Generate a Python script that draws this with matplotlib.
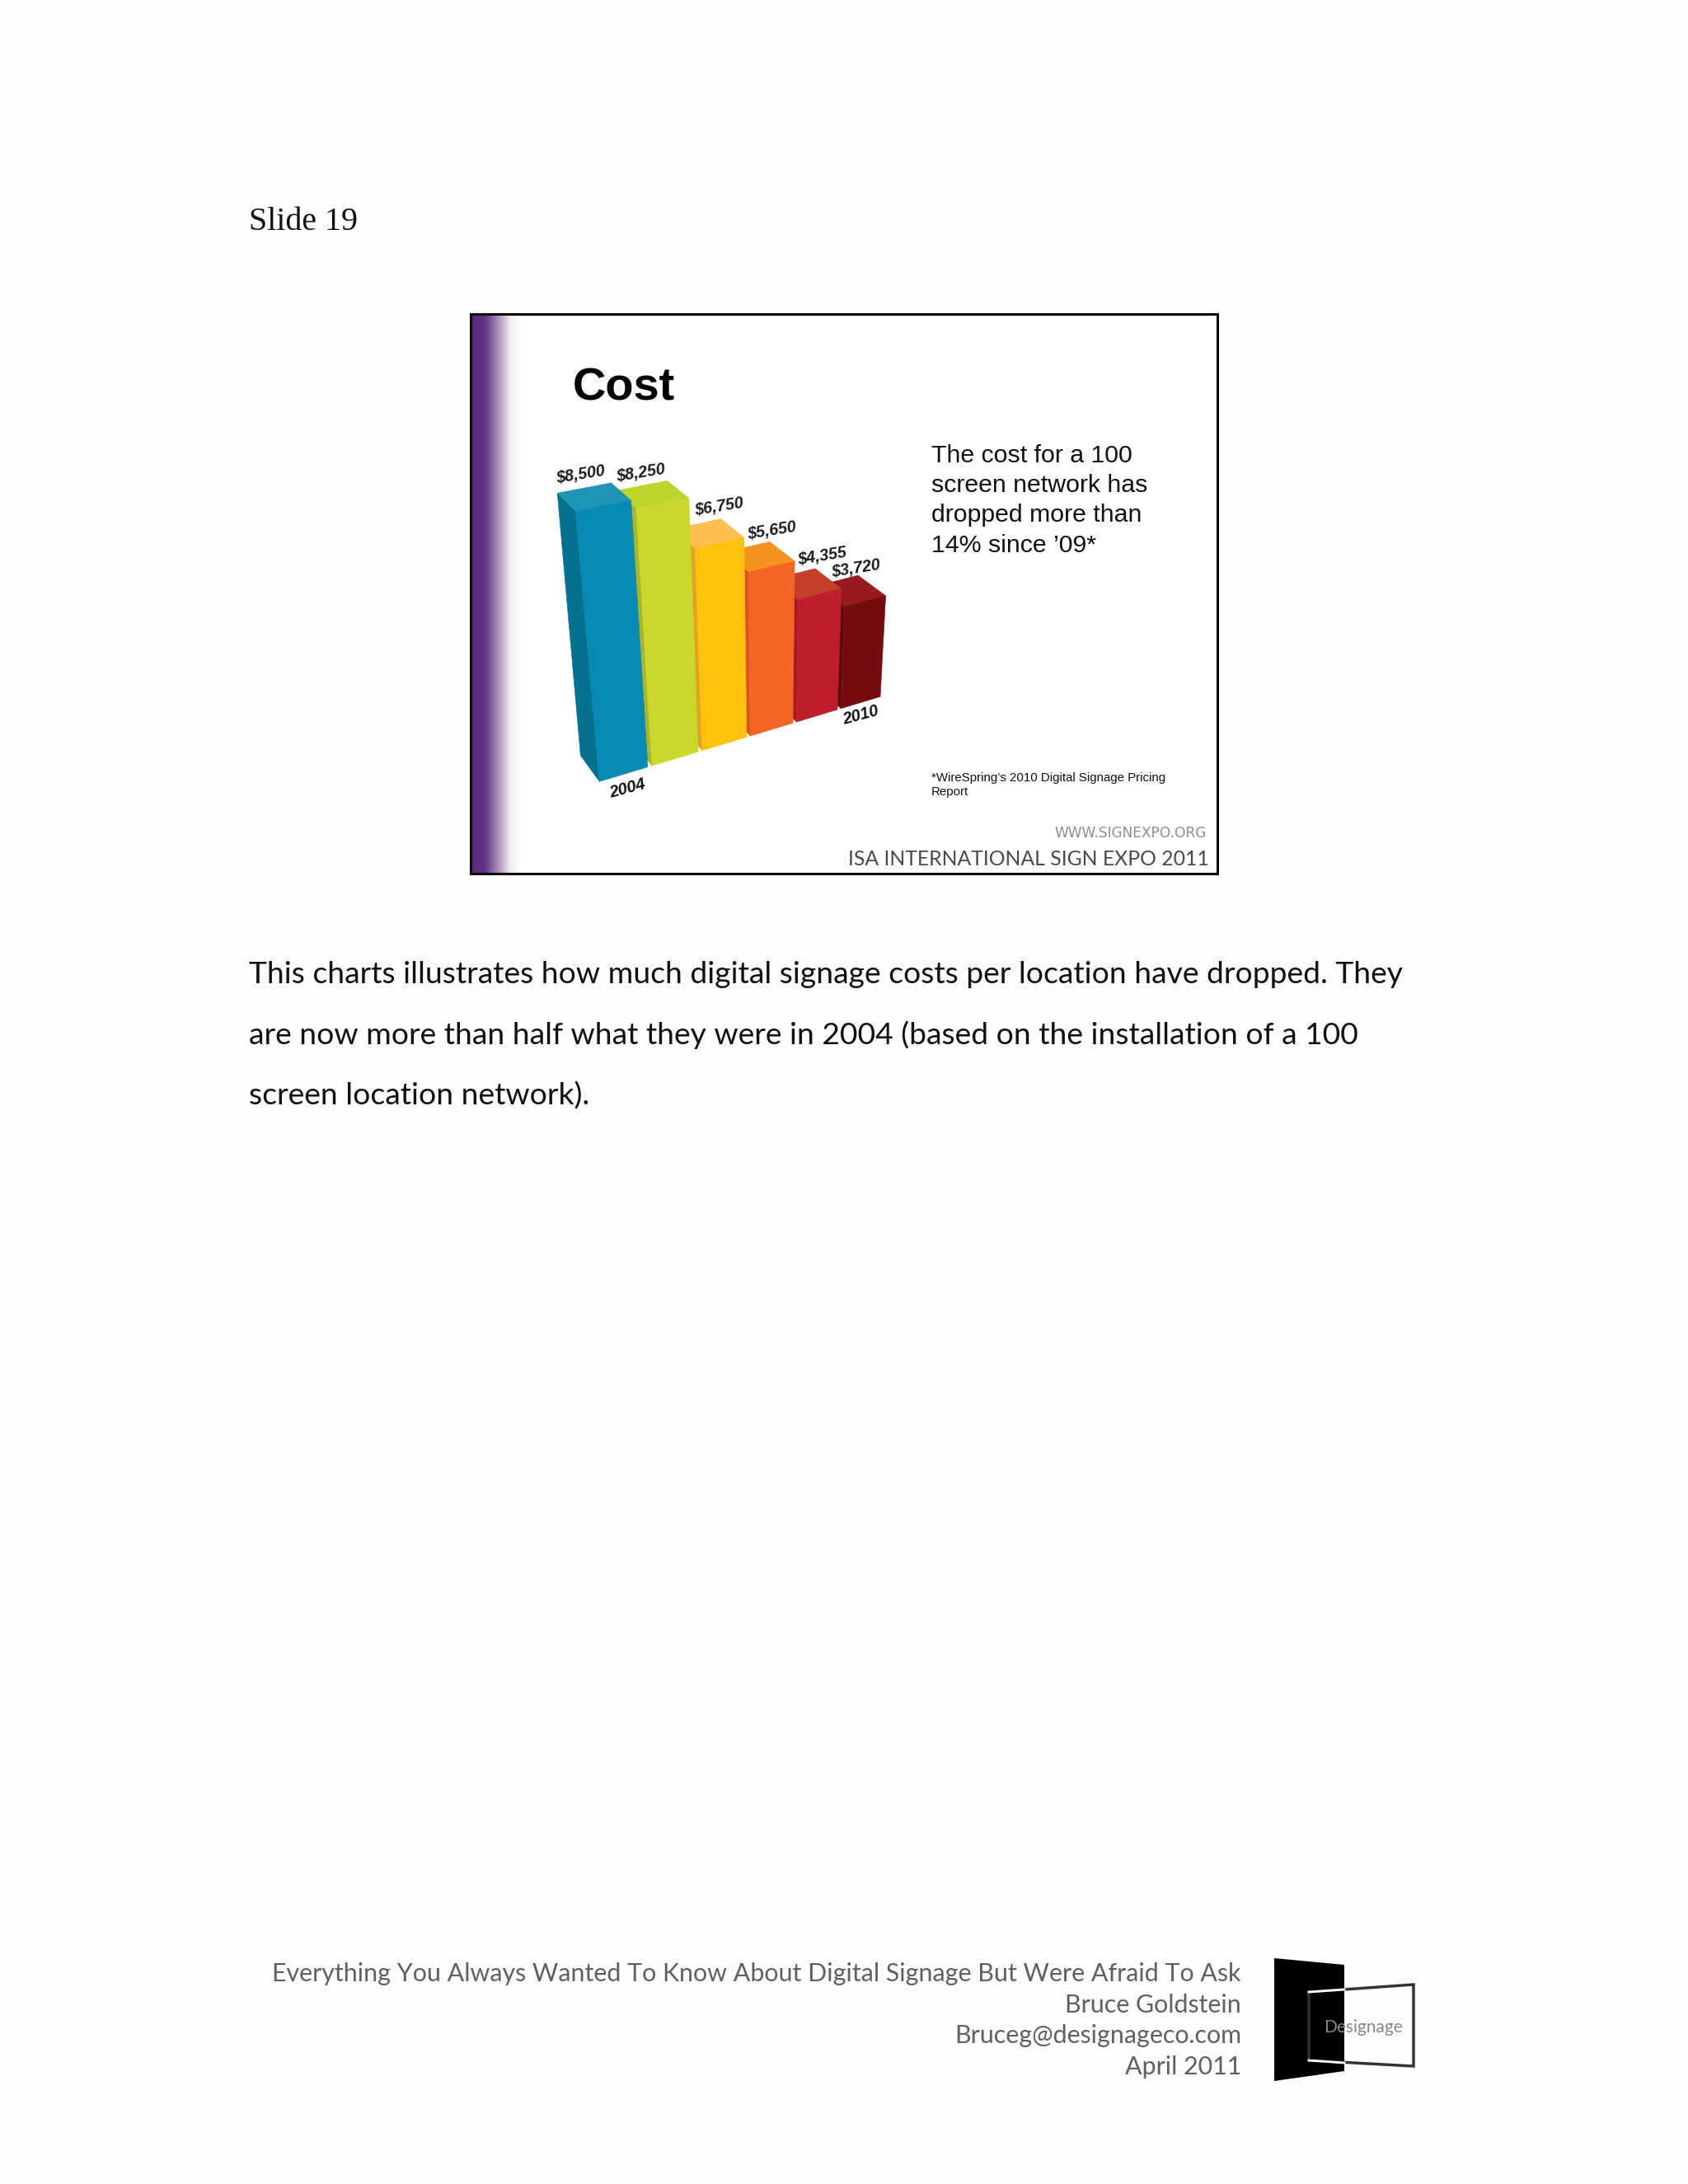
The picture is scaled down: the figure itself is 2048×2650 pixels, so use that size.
import numpy as np
from matplotlib import pyplot as plt
from matplotlib.patches import Polygon, Rectangle
from matplotlib.colors import LinearSegmentedColormap

W, H = 2048, 2650

# chart data
bar_labels = ["$8,500", "$8,250", "$6,750", "$5,650", "$4,355", "$3,720"]
costs = [8500, 8250, 6750, 5650, 4355, 3720]
axis_years = ["2004", "2010"]

body_lines = [
    "This charts illustrates how much digital signage costs per location have dropped. They",
    "are now more than half what they were in 2004 (based on the installation of a 100",
    "screen location network).",
]
slide_lines = [
    "The cost for a 100",
    "screen network has",
    "dropped more than",
    "14% since \u201909*",
]
note_lines = ["*WireSpring\u2019s 2010 Digital Signage Pricing", "Report"]
footer_lines = [
    "Everything You Always Wanted To Know About Digital Signage But Were Afraid To Ask",
    "Bruce Goldstein",
    "Bruceg@designageco.com",
    "April 2011",
]

# front, side, top
front_colors = ["#078bb3", "#c8d92c", "#ffc10d", "#f36523", "#bd1e2b", "#750c10"]
side_colors = ["#06708f", "#a9b62d", "#e2a322", "#d8551f", "#a31c22", "#5c090c"]
top_colors = ["#1f95b3", "#bed42d", "#fdbe52", "#f6921e", "#c23f28", "#981a1e"]
label_off = [(-37, 10), (-32, 9), (-2, 15), (2, 13), (8, 15), (-3, 8)]


def px(size):
    return size * 72 / 100


fig = plt.figure(figsize=(W / 100, H / 100), dpi=100, facecolor="#fefefe")
ax = fig.add_axes([0, 0, 1, 1])
ax.set_xlim(0, W)
ax.set_ylim(H, 0)
ax.axis("off")

serif = "Liberation Serif"
sans = "Liberation Sans"

ax.text(302, 279, "Slide 19", family=serif, fontsize=px(40), color="#111111", va="baseline")

# slide
ax.add_patch(Rectangle((571, 381), 906, 679, fc="white", ec="none", zorder=1))
fade = LinearSegmentedColormap.from_list("fade", [(0, "#5b2c80"), (0.28, "#5f3284"), (0.55, "#a98bb9"), (0.8, "#ece6f0"), (1, "#ffffff")])
ax.imshow(np.linspace(0, 1, 64)[None, :], cmap=fade, extent=(572, 630, 1060, 381), aspect="auto", zorder=2)
ax.set_xlim(0, W)
ax.set_ylim(H, 0)
ax.add_patch(Rectangle((571, 381), 906, 679, fc="none", ec="#0a0a0a", lw=2.2, zorder=8))


# bar projection: position along the row, value, depth
def project(s, value, depth=0):
    y = value / 1000
    den = 1 + 0.0216 * s - 0.01441 * y
    X = (198.63 * s - 12.76 * y + 262) / den
    Y = (-31.91 * s - 119.34 * y + 1225) / den
    X = X + depth * 0.0305 * (-2000 - X)
    Y = Y + depth * 0.0305 * (-1894 - Y)
    return 640 + X / 3, 540 + Y / 3


lefts = np.arange(len(costs)) * 1.01
rights = lefts + 0.93

# far bars first so the nearer ones cover them
for i in reversed(range(len(costs))):
    l, r, v = lefts[i], rights[i], costs[i]
    side = [project(l, 0), project(l, v), project(l, v, 1), project(l, 0, 1)]
    top = [project(l, v), project(r, v), project(r, v, 1), project(l, v, 1)]
    front = [project(l, 0), project(r, 0), project(r, v), project(l, v)]
    z = 3 + (len(costs) - i) * 0.1
    for pts, c in zip([side, top, front], [side_colors[i], top_colors[i], front_colors[i]]):
        ax.add_patch(Polygon(pts, closed=True, fc=c, ec=c, lw=0.4, zorder=z))
    ax.annotate(bar_labels[i], project(r, v, 1), xytext=label_off[i], textcoords="offset pixels",
                family=sans, weight="bold", style="italic", fontsize=px(19.6), color="#1a1a1a",
                rotation=9, ha="center", va="center", zorder=6)

ax.text(761, 957, axis_years[0], family=sans, weight="bold", style="italic", fontsize=px(20),
        color="#111111", rotation=15, ha="center", va="center", zorder=6)
ax.text(1044, 868, axis_years[1], family=sans, weight="bold", style="italic", fontsize=px(20),
        color="#111111", rotation=15, ha="center", va="center", zorder=6)

ax.text(695, 485, "Cost", family=sans, weight="bold", fontsize=px(56), color="black", va="baseline", zorder=6)
for n, line in enumerate(slide_lines):
    ax.text(1130, 561 + n * 36.2, line, family=sans, fontsize=px(30.2), color="#111111", va="baseline", zorder=6)
for n, line in enumerate(note_lines):
    ax.text(1130, 948 + n * 16.5, line, family=sans, fontsize=px(15), color="#111111", va="baseline", zorder=6)
ax.text(1464, 1016, "WWW.SIGNEXPO.ORG", family="DejaVu Sans", fontsize=px(17), color="#8f8f8f", ha="right", va="baseline", zorder=6)
ax.text(1467, 1050, "ISA INTERNATIONAL SIGN EXPO 2011", family="Lato", fontsize=px(24.8), color="#4a4a4a", ha="right", va="baseline", zorder=6)

for n, line in enumerate(body_lines):
    ax.text(302, 1193 + n * 74, line, family="Lato", fontsize=px(37.2), color="#111111", va="baseline")

# footer
for n, line in enumerate(footer_lines):
    ax.text(1506, 2395 + n * 37.6, line, family="Lato", fontsize=px(30.4), color="#606060", ha="right", va="center")

# logo
ax.add_patch(Polygon([(1546, 2376), (1631, 2384), (1631, 2513), (1546, 2525)], fc="black", ec="none"))
ax.add_patch(Polygon([(1588, 2417), (1715, 2408), (1715, 2507), (1588, 2500)], fc="none", ec="#333333", lw=2.5))
ax.plot([1588, 1631], [2417, 2414], color="white", lw=2)
ax.plot([1588, 1631], [2500, 2503], color="white", lw=2)
ax.text(1654, 2460, "Designage", family="Lato", fontsize=px(21), color="#888888", ha="center", va="center")

fig.savefig("out.png", dpi=100, facecolor=fig.get_facecolor())
